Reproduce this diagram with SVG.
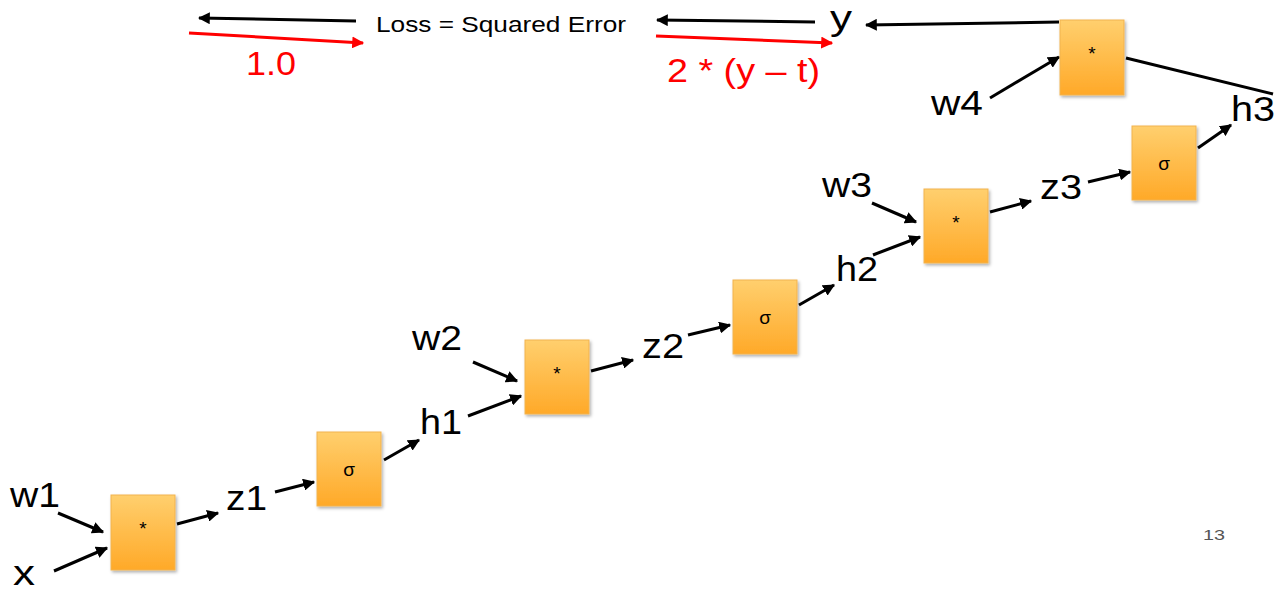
<svg xmlns="http://www.w3.org/2000/svg" width="1284" height="591" viewBox="0 0 1284 591">
  <defs>
    <linearGradient id="boxFill" x1="0" y1="0" x2="0" y2="1">
      <stop offset="0" stop-color="#FFCF6E"/>
      <stop offset="1" stop-color="#FFA928"/>
    </linearGradient>
    <filter id="shadow" x="-20%" y="-20%" width="150%" height="150%">
      <feDropShadow dx="1.5" dy="2" stdDeviation="1.5" flood-color="#000" flood-opacity="0.3"/>
    </filter>
    <marker id="ahBlack" viewBox="0 0 10 10" refX="9" refY="5" markerWidth="4" markerHeight="4" orient="auto" markerUnits="strokeWidth">
      <path d="M0,0 L10,5 L0,10 z" fill="#000"/>
    </marker>
    <marker id="ahRed" viewBox="0 0 10 10" refX="9" refY="5" markerWidth="4" markerHeight="4" orient="auto" markerUnits="strokeWidth">
      <path d="M0,0 L10,5 L0,10 z" fill="#F00"/>
    </marker>
  </defs>
  <style>
    .box { fill: url(#boxFill); stroke: #F2B34E; stroke-width: 1; filter: url(#shadow); }
    .op { font-family: "Liberation Sans", Arial, sans-serif; font-size: 19px; fill: #000; text-anchor: middle; }
    .lbl { font-family: "Liberation Sans", Arial, sans-serif; font-size: 35px; fill: #000; }
    .red { font-family: "Liberation Sans", Arial, sans-serif; font-size: 34px; fill: #F00; }
    .small { font-family: "Liberation Sans", Arial, sans-serif; font-size: 22px; fill: #000; }
    .num { font-family: "Liberation Sans", Arial, sans-serif; font-size: 15px; fill: #555; }
    .arr { stroke: #000; stroke-width: 3; fill: none; marker-end: url(#ahBlack); }
    .line { stroke: #000; stroke-width: 3; fill: none; }
    .rarr { stroke: #F00; stroke-width: 3; fill: none; marker-end: url(#ahRed); }
  </style>

  <rect width="1284" height="591" fill="#fff"/>

  <!-- connectors -->
  <g id="connectors">
    <line class="line" x1="1273" y1="94" x2="1126" y2="58"/>
    <line class="arr" x1="356" y1="21" x2="199" y2="18"/>
    <line class="rarr" x1="189" y1="33" x2="363" y2="43"/>
    <line class="arr" x1="815" y1="22" x2="657" y2="20"/>
    <line class="rarr" x1="656" y1="36" x2="832" y2="43"/>
    <line class="arr" x1="1059" y1="22" x2="866" y2="25"/>
    <line class="arr" x1="990" y1="98" x2="1059" y2="57"/>
    <line class="arr" x1="1198" y1="148" x2="1231" y2="125"/>
    <line class="arr" x1="1088" y1="182" x2="1130" y2="172"/>
    <line class="arr" x1="990" y1="212" x2="1031" y2="201"/>
    <line class="arr" x1="872" y1="203" x2="916" y2="222"/>
    <line class="arr" x1="873" y1="255" x2="920" y2="237"/>
    <line class="arr" x1="799" y1="305" x2="834" y2="285"/>
    <line class="arr" x1="688" y1="335" x2="730" y2="325"/>
    <line class="arr" x1="591" y1="371" x2="633" y2="360"/>
    <line class="arr" x1="473" y1="362" x2="517" y2="381"/>
    <line class="arr" x1="468" y1="416" x2="521" y2="396"/>
    <line class="arr" x1="384" y1="460" x2="419" y2="440"/>
    <line class="arr" x1="275" y1="492" x2="314" y2="482"/>
    <line class="arr" x1="177" y1="524" x2="218" y2="513"/>
    <line class="arr" x1="58" y1="513" x2="103" y2="532"/>
    <line class="arr" x1="54" y1="571" x2="107" y2="548"/>
  </g>

  <!-- operation nodes -->
  <g id="mul1"><rect class="box" x="111" y="495" width="64" height="75"/><text class="op" x="143" y="535">*</text></g>
  <g id="sig1"><rect class="box" x="317" y="432" width="64" height="74"/><text class="op" x="349" y="476">σ</text></g>
  <g id="mul2"><rect class="box" x="525" y="340" width="64" height="74"/><text class="op" x="557" y="380">*</text></g>
  <g id="sig2"><rect class="box" x="733" y="280" width="64" height="74"/><text class="op" x="765" y="324">σ</text></g>
  <g id="mul3"><rect class="box" x="924" y="189" width="64" height="74"/><text class="op" x="956" y="229">*</text></g>
  <g id="sig3"><rect class="box" x="1132" y="126" width="64" height="74"/><text class="op" x="1164" y="170">σ</text></g>
  <g id="mul4"><rect class="box" x="1060" y="20" width="64" height="75"/><text class="op" x="1092" y="60">*</text></g>

  <!-- value labels -->
  <g id="labels">
    <text class="lbl" x="10" y="507" textLength="50" lengthAdjust="spacingAndGlyphs">w1</text>
    <text class="lbl" x="13" y="585" textLength="22" lengthAdjust="spacingAndGlyphs">x</text>
    <text class="lbl" x="226" y="510" textLength="41" lengthAdjust="spacingAndGlyphs">z1</text>
    <text class="lbl" x="420" y="434" textLength="42" lengthAdjust="spacingAndGlyphs">h1</text>
    <text class="lbl" x="412" y="350" textLength="50" lengthAdjust="spacingAndGlyphs">w2</text>
    <text class="lbl" x="642" y="358" textLength="42" lengthAdjust="spacingAndGlyphs">z2</text>
    <text class="lbl" x="836" y="281" textLength="42" lengthAdjust="spacingAndGlyphs">h2</text>
    <text class="lbl" x="822" y="197" textLength="50" lengthAdjust="spacingAndGlyphs">w3</text>
    <text class="lbl" x="1040" y="199" textLength="42" lengthAdjust="spacingAndGlyphs">z3</text>
    <text class="lbl" x="1231" y="121" textLength="44" lengthAdjust="spacingAndGlyphs">h3</text>
    <text class="lbl" x="931" y="115" textLength="52" lengthAdjust="spacingAndGlyphs">w4</text>
    <text class="lbl" x="830" y="30" font-size="32" textLength="22" lengthAdjust="spacingAndGlyphs">y</text>
    <text class="small" x="376" y="32" textLength="250" lengthAdjust="spacingAndGlyphs">Loss = Squared Error</text>
    <text class="red" x="246" y="75" textLength="50" lengthAdjust="spacingAndGlyphs">1.0</text>
    <text class="red" x="667" y="82" textLength="153" lengthAdjust="spacingAndGlyphs">2 * (y – t)</text>
    <text class="num" x="1203" y="540" textLength="22" lengthAdjust="spacingAndGlyphs">13</text>
  </g>
</svg>
